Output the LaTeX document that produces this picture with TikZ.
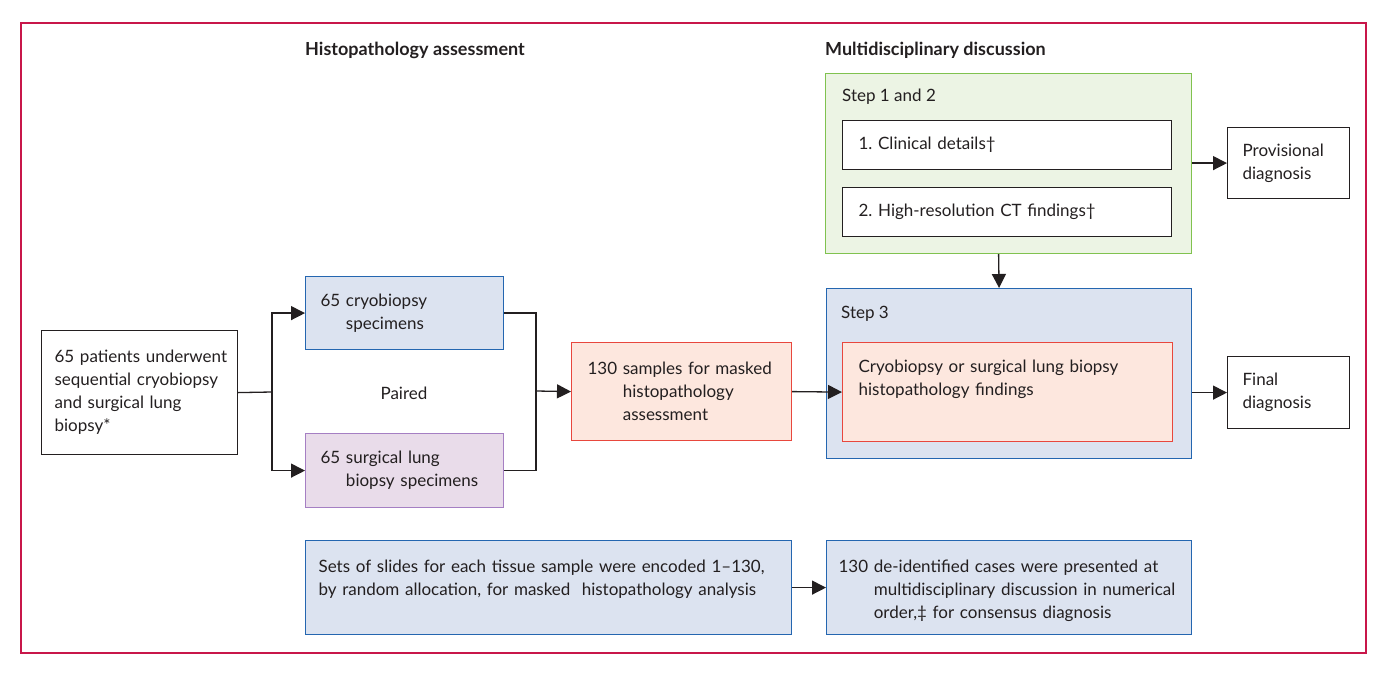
\documentclass[tikz,border=0pt]{standalone}
\usepackage{fontspec}
\setmainfont{Lato}
\usetikzlibrary{positioning}
\usetikzlibrary{arrows.meta}
\definecolor{ink}{HTML}{231F20}
\definecolor{framered}{HTML}{C8174A}
\definecolor{bluefill}{HTML}{DCE3F0}
\definecolor{blueline}{HTML}{2466B0}
\definecolor{purplefill}{HTML}{E9DCEA}
\definecolor{purpleline}{HTML}{A57FC3}
\definecolor{pinkfill}{HTML}{FDE7DE}
\definecolor{redline}{HTML}{E8473D}
\definecolor{greenfill}{HTML}{ECF4E4}
\definecolor{greenline}{HTML}{80C24F}

\begin{document}
\begin{tikzpicture}
    [
    x=1pt, y=-1pt,
    font=\fontsize{17}{23}\selectfont\frenchspacing,
    box/.style={draw=ink, line width=1.2pt, text=ink, anchor=north west, align=left, inner ysep=0pt},
    bluebox/.style={box, fill=bluefill, draw=blueline},
    purplebox/.style={box, fill=purplefill, draw=purpleline},
    redbox/.style={box, fill=pinkfill, draw=redline},
    greenbox/.style={box, fill=greenfill, draw=greenline},
    plain/.style={text=ink, inner sep=0pt},
    hdr/.style={plain, font=\fontsize{18}{23}\selectfont\bfseries, anchor=base west},
    line/.style={draw=ink, line width=1.3pt},
    arrow/.style={line, -{Triangle[length=14pt,width=14pt]}},
    ]

    \useasboundingbox (0,0) rectangle (1387,674);
    \draw[framered, line width=1.4pt] (21,23) rectangle (1366,653);

    \node[hdr] (hdr_histo) at (305,56) {Histopathology assessment};
    \node[hdr] (hdr_mdd) at (825,56) {Multidisciplinary discussion};

    \node[box, minimum width=196pt, minimum height=124pt, text width=170pt, inner xsep=13pt] (box_patients) at (41,330)
    {\mbox{65 patients underwent}\\\mbox{sequential cryobiopsy}\\and surgical lung\\biopsy*};

    \node[bluebox, minimum width=198pt, minimum height=73pt, text width=168pt, inner xsep=15pt] (box_cryo) at (305,276)
    {65 cryobiopsy\\\phantom{65\ }specimens};
    \node[purplebox, minimum width=198pt, minimum height=74pt, text width=168pt, inner xsep=15pt] (box_surgical) at (305,433)
    {65 surgical lung\\\phantom{65\ }biopsy specimens};
    \node[plain] (txt_paired) at (404,393) {Paired};

    \node[redbox, minimum width=220pt, minimum height=98pt, text width=188pt, inner xsep=16pt] (box_samples) at (571,342)
    {130 samples for masked\\\phantom{130\ }histopathology\\\phantom{130\ }assessment};

    \node[greenbox, minimum width=366pt, minimum height=180pt] (box_steps12) at (825,73) {};
    \node[plain, anchor=base west] (lbl_steps12) at (842,102) {Step 1 and 2};
    \node[box, fill=white, minimum width=329pt, minimum height=49pt, text width=297pt, inner xsep=16pt] (box_clinical) at (842,120)
    {1. Clinical details†};
    \node[box, fill=white, minimum width=329pt, minimum height=49pt, text width=297pt, inner xsep=16pt] (box_hrct) at (842,187)
    {2. High-resolution CT findings†};

    \node[bluebox, minimum width=365pt, minimum height=170pt] (box_step3) at (826,288) {};
    \node[plain, anchor=base west] (lbl_step3) at (841,318) {Step 3};
    \node[redbox, minimum width=330pt, text width=298pt, inner xsep=16pt, text height=30pt, text depth=69pt] (box_findings) at (842,342)
    {Cryobiopsy or surgical lung biopsy\\histopathology findings};

    \node[box, minimum width=122pt, minimum height=71pt, text width=92pt, inner xsep=15pt] (box_provisional) at (1227,127)
    {Provisional\\diagnosis};
    \node[box, minimum width=122pt, minimum height=72pt, text width=92pt, inner xsep=15pt] (box_final) at (1227,356)
    {Final\\diagnosis};

    \node[bluebox, minimum width=486pt, text width=460pt, inner xsep=13pt, text height=32pt, text depth=62pt] (box_slides) at (305,540)
    {\mbox{Sets of slides for each tissue sample were encoded 1–130,}\\by random allocation, for masked\ \ histopathology analysis};
    \node[bluebox, minimum width=365pt, text width=341pt, inner xsep=12pt, text height=32pt, text depth=62pt] (box_cases) at (826,540)
    {130 de-identified cases were presented at\\\phantom{130\ }\mbox{multidisciplinary discussion in numerical}\\\phantom{130\ }order,‡ for consensus diagnosis};

    \coordinate (split) at (272,392);
    \coordinate (merge) at (536,391);
    \draw[line] (box_patients.east) -- (split);
    \draw[arrow] (split) |- (box_cryo.west);
    \draw[arrow] (split) |- (box_surgical.west);
    \draw[line] (box_cryo.east) -| (merge) |- (box_surgical.east);
    \draw[arrow] (merge) -- (box_samples.west);
    \draw[arrow] (box_samples.east) -- (box_findings.west);
    \draw[arrow] ([xshift=-10pt]box_steps12.south) -- ([xshift=-10pt]box_step3.north);
    \draw[arrow] (box_steps12.east |- box_provisional.west) -- (box_provisional.west);
    \draw[arrow] (box_step3.east |- box_final.west) -- (box_final.west);
    \draw[arrow] (box_slides.east) -- (box_cases.west);
\end{tikzpicture}
\end{document}
